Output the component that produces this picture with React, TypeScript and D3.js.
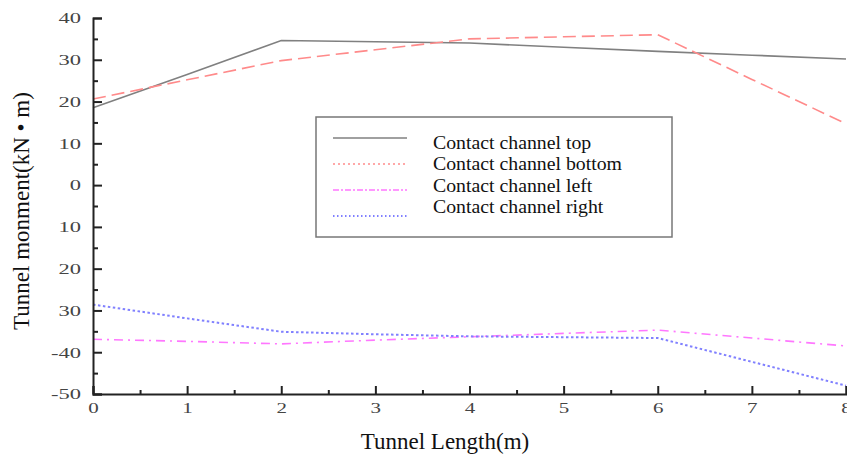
import React, { useEffect, useRef } from "react";
import * as d3 from "d3";

const lengths = [0, 1, 2, 3, 4, 5, 6, 7, 8];
const topValues = [18.5, 26.5, 34.6, 34.3, 34.0, 33.0, 32.0, 31.1, 30.2];
const bottomValues = [20.6, 25.2, 29.8, 32.4, 35.0, 35.5, 36.0, 25.3, 14.7];
const leftValues = [-36.9, -37.4, -38.0, -37.1, -36.3, -35.5, -34.7, -36.6, -38.5];
const rightValues = [-28.6, -31.9, -35.1, -35.7, -36.2, -36.4, -36.6, -42.3, -48.0];

const xTicks = [0, 1, 2, 3, 4, 5, 6, 7, 8];
const yTicks = [-50, -40, -30, -20, -10, 0, 10, 20, 30, 40];
const yTickLabels = ["-50", "-40", "30", "20", "10", "0", "10", "20", "30", "40"];

const seriesNames = [
  "Contact channel top",
  "Contact channel bottom",
  "Contact channel left",
  "Contact channel right",
];

const W = 847;
const H = 456;

export default function App() {
  const ref = useRef<SVGSVGElement>(null);

  useEffect(() => {
    const svg = d3.select(ref.current);
    svg.selectAll("*").remove();

    const x = d3.scaleLinear().domain([0, 8]).range([93, 846]);
    const y = d3.scaleLinear().domain([-50, 40]).range([394, 18]);

    const font = "'Liberation Serif', 'Times New Roman', serif";

    // series
    const series = [
      { values: topValues, color: "#808080", dash: null, width: 1.6, legendDash: null },
      { values: bottomValues, color: "#ff8a8a", dash: "13,6", width: 1.6, legendDash: "2,3" },
      { values: leftValues, color: "#ff77ff", dash: "9,5,2,5", width: 1.6, legendDash: "6,2,2,2" },
      { values: rightValues, color: "#8080ff", dash: "2.5,2.5", width: 2, legendDash: "1.5,2.5" },
    ];

    const line = d3
      .line<number>()
      .x((_, i) => x(lengths[i]))
      .y((d) => y(d));

    series.forEach((s) => {
      svg
        .append("path")
        .attr("d", line(s.values))
        .attr("fill", "none")
        .attr("stroke", s.color)
        .attr("stroke-width", s.width)
        .attr("stroke-dasharray", s.dash);
    });

    // axes
    const gx = svg.append("g").attr("transform", `translate(0,${y(-50)})`);
    gx.call(
      d3.axisBottom(x).tickValues(xTicks).tickSize(-8).tickPadding(8).tickFormat(d3.format("d"))
    );
    const gxMinor = svg.append("g").attr("transform", `translate(0,${y(-50)})`);
    gxMinor.call(
      d3.axisBottom(x).tickValues(d3.range(0.5, 8, 1)).tickSize(-4).tickFormat(() => "")
    );

    const gy = svg.append("g").attr("transform", `translate(${x(0)},0)`);
    gy.call(
      d3
        .axisLeft(y)
        .tickValues(yTicks)
        .tickSize(-9)
        .tickFormat((d, i) => yTickLabels[i])
    );
    const gyMinor = svg.append("g").attr("transform", `translate(${x(0)},0)`);
    gyMinor.call(
      d3.axisLeft(y).tickValues(d3.range(-45, 40, 10)).tickSize(-5).tickFormat(() => "")
    );

    [gx, gxMinor, gy, gyMinor].forEach((g) => {
      g.selectAll("path.domain").attr("stroke", "#222").attr("stroke-width", 2);
      g.selectAll(".tick line").attr("stroke", "#222").attr("stroke-width", 2);
      g.selectAll(".tick text")
        .attr("fill", "#444")
        .style("font-family", font)
        .style("font-size", "15px");
    });
    gxMinor.select("path.domain").remove();
    gyMinor.select("path.domain").remove();

    // the tick digits in the picture are wide, stretch them sideways
    gy.selectAll(".tick text").attr("x", 0).attr("transform", "translate(-12,0) scale(1.5,1)");
    gx.selectAll(".tick text").attr("transform", "scale(1.4,1)");

    // axis titles
    svg
      .append("text")
      .attr("x", 445)
      .attr("y", 449)
      .attr("text-anchor", "middle")
      .style("font-family", font)
      .style("font-size", "23px")
      .attr("fill", "#111")
      .text("Tunnel Length(m)");

    svg
      .append("text")
      .attr("transform", `translate(29,${211}) rotate(-90)`)
      .attr("text-anchor", "middle")
      .style("font-family", font)
      .style("font-size", "23px")
      .attr("fill", "#111")
      .text("Tunnel monment(kN \u2022 m)");

    // legend
    const lg = svg.append("g");
    lg.append("rect")
      .attr("x", 316)
      .attr("y", 117)
      .attr("width", 356)
      .attr("height", 120)
      .attr("fill", "white")
      .attr("stroke", "#777")
      .attr("stroke-width", 1.5);

    series.forEach((s, i) => {
      const ly = 138 + i * 26;
      lg.append("line")
        .attr("x1", 333)
        .attr("x2", 407)
        .attr("y1", ly)
        .attr("y2", ly)
        .attr("stroke", s.color)
        .attr("stroke-width", s.width)
        .attr("stroke-dasharray", s.legendDash);
      lg.append("text")
        .attr("x", 433)
        .attr("y", 149 + i * 21.3)
        .style("font-family", font)
        .style("font-size", "19.8px")
        .attr("fill", "#111")
        .text(seriesNames[i]);
    });
  }, []);

  return (
    <svg
      ref={ref}
      width={W}
      height={H}
      style={{ position: "absolute", left: 0, top: 0, background: "white" }}
    />
  );
}
